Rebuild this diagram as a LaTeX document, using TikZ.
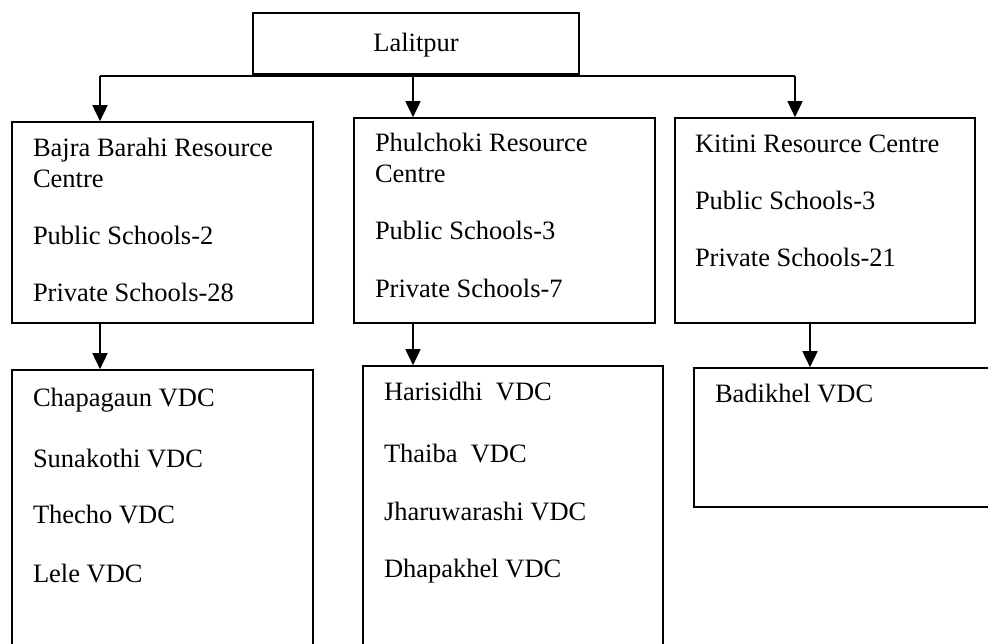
\documentclass[tikz,border=0pt]{standalone}
\usepackage{fontspec}
\setmainfont{Liberation Serif}
\usetikzlibrary{arrows.meta}
\tikzset{
  box/.style={draw=black, line width=1.6pt, inner sep=0pt, outer sep=0pt, anchor=north west},
  txt/.style={anchor=base west, inner sep=0pt, outer sep=0pt, font=\fontsize{26.5}{31}\selectfont},
  link/.style={draw=black, line width=1.6pt},
  arr/.style={link, -{Triangle[length=16pt,width=15pt]}, shorten >=0.8pt}
}
\begin{document}
\begin{tikzpicture}[x=1pt, y=-1pt]
\clip (0,0) rectangle (988,644);
\fill[white] (0,0) rectangle (988,644);
% boxes
\node[box, minimum width=326pt, minimum height=61pt] (lal) at (253,13) {};
\node[box, minimum width=301pt, minimum height=201pt] (b1) at (12,122) {};
\node[box, minimum width=301pt, minimum height=205pt] (b2) at (354,118) {};
\node[box, minimum width=300pt, minimum height=205pt] (b3) at (675,118) {};
\node[box, minimum width=301pt, minimum height=320pt] (v1) at (12,370) {};
\node[box, minimum width=300pt, minimum height=320pt] (v2) at (363,366) {};
\node[box, minimum width=320pt, minimum height=139pt] (v3) at (694,368) {};
% texts
\node[txt, anchor=base] (tl) at (416,52) {Lalitpur};
\node[txt] (t1a) at (33,157) {Bajra Barahi Resource};
\node[txt] (t1b) at (33,188) {Centre};
\node[txt] (t1c) at (33,245) {Public Schools-2};
\node[txt] (t1d) at (33,302) {Private Schools-28};
\node[txt] (t2a) at (375,152) {Phulchoki Resource};
\node[txt] (t2b) at (375,183) {Centre};
\node[txt] (t2c) at (375,240) {Public Schools-3};
\node[txt] (t2d) at (375,298) {Private Schools-7};
\node[txt] (t3a) at (695,153) {Kitini Resource Centre};
\node[txt] (t3b) at (695,210) {Public Schools-3};
\node[txt] (t3c) at (695,267) {Private Schools-21};
\node[txt] (u1a) at (33,406) {Chapagaun VDC};
\node[txt] (u1b) at (33,467) {Sunakothi VDC};
\node[txt] (u1c) at (33,523) {Thecho VDC};
\node[txt] (u1d) at (33,582) {Lele VDC};
\node[txt] (u2a) at (384,400) {Harisidhi\ \ VDC};
\node[txt] (u2b) at (384,462) {Thaiba\ \ VDC};
\node[txt] (u2c) at (384,520) {Jharuwarashi VDC};
\node[txt] (u2d) at (384,577) {Dhapakhel VDC};
\node[txt] (u3a) at (715,402) {Badikhel VDC};
% connectors
\coordinate (jl) at (100,76);
\coordinate (jr) at (795,76);
\coordinate (jm) at (413,74);
\draw[link] (jl) -- (jr);
\draw[arr] (jl) -- (jl |- b1.north);
\draw[arr] (jm) -- (jm |- b2.north);
\draw[arr] (jr) -- (jr |- b3.north);
\coordinate (k1) at (100,323);
\coordinate (k2) at (413,323);
\coordinate (k3) at (810,323);
\draw[arr] (k1) -- (k1 |- v1.north);
\draw[arr] (k2) -- (k2 |- v2.north);
\draw[arr] (k3) -- (k3 |- v3.north);
\end{tikzpicture}
\end{document}
